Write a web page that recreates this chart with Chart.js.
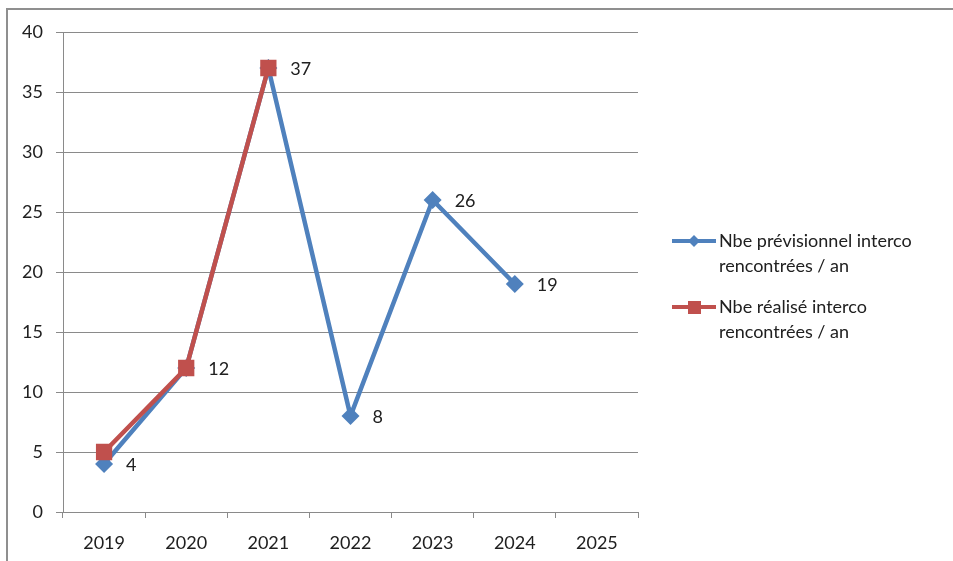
<!DOCTYPE html>
<html>
<head>
<meta charset="utf-8">
<script src="https://cdn.jsdelivr.net/npm/chart.js@4"></script>
<style>
  body { margin: 0; background: #fff; }
  #wrap { position: relative; width: 953px; height: 561px; overflow: hidden; }
  #frame { position: absolute; left: 6px; top: 8px; width: 960px; height: 600px;
           border-left: 2px solid #8f8f8f; border-top: 2px solid #8f8f8f; box-sizing: border-box; }
  #c { position: absolute; left: 0; top: 0; }
</style>
</head>
<body>
<div id="wrap">
  <div id="frame"></div>
  <canvas id="c" width="953" height="561"></canvas>
</div>
<script>
// data
const years = ['2019', '2020', '2021', '2022', '2023', '2024', '2025'];
const previsionnel = [4, 12, 37, 8, 26, 19, null];
const realise = [5, 12, 37, null, null, null, null];
const seriesNames = [
  ['Nbe prévisionnel interco', 'rencontrées / an'],
  ['Nbe réalisé interco', 'rencontrées / an']
];

const FONT = 'Lato, "Liberation Sans", sans-serif';
const GRID = '#8a8a8a';
const TEXT = '#202020';

// value labels to the right of the blue points
const valueLabels = {
  id: 'valueLabels',
  afterDatasetsDraw(chart) {
    const ctx = chart.ctx;
    const meta = chart.getDatasetMeta(0);
    ctx.save();
    ctx.font = '18px ' + FONT;
    ctx.fillStyle = TEXT;
    ctx.textAlign = 'left';
    ctx.textBaseline = 'middle';
    meta.data.forEach((pt, i) => {
      const v = chart.data.datasets[0].data[i];
      if (v === null) return;
      ctx.fillText(String(v), pt.x + 22, pt.y + 1);
    });
    ctx.restore();
  }
};

// legend on the right, with wrapped text
const sideLegend = {
  id: 'sideLegend',
  afterDraw(chart) {
    const ctx = chart.ctx;
    const rows = [241, 307];
    ctx.save();
    chart.data.datasets.forEach((ds, i) => {
      const y = rows[i];
      ctx.strokeStyle = ds.borderColor;
      ctx.lineWidth = 4;
      ctx.beginPath();
      ctx.moveTo(672, y);
      ctx.lineTo(716, y);
      ctx.stroke();
      ctx.fillStyle = ds.borderColor;
      ctx.beginPath();
      if (ds.pointStyle === 'rectRot') {
        ctx.moveTo(694, y - 6); ctx.lineTo(700, y); ctx.lineTo(694, y + 6); ctx.lineTo(688, y);
      } else {
        ctx.rect(688, y - 6, 13, 13);
      }
      ctx.closePath();
      ctx.fill();
      ctx.font = '18px ' + FONT;
      ctx.fillStyle = TEXT;
      ctx.textAlign = 'left';
      ctx.textBaseline = 'middle';
      seriesNames[i].forEach((line, j) => ctx.fillText(line, 719, y + j * 25));
    });
    ctx.restore();
  }
};

new Chart(document.getElementById('c'), {
  type: 'line',
  data: {
    labels: years,
    datasets: [
      {
        label: seriesNames[0].join(' '),
        data: previsionnel,
        order: 1,
        borderColor: '#4f81bd',
        backgroundColor: '#4f81bd',
        borderWidth: 4.5,
        pointStyle: 'rectRot',
        pointRadius: 9,
        pointBorderWidth: 0,
        tension: 0
      },
      {
        label: seriesNames[1].join(' '),
        data: realise,
        order: 0,
        borderColor: '#c0504d',
        backgroundColor: '#c0504d',
        borderWidth: 4.5,
        pointStyle: 'rect',
        pointRadius: 11.5,
        pointBorderWidth: 0,
        tension: 0
      }
    ]
  },
  options: {
    responsive: false,
    animation: false,
    layout: { padding: { left: 0, top: 32, right: 315, bottom: 0 } },
    plugins: { legend: { display: false }, tooltip: { enabled: false } },
    scales: {
      x: {
        offset: true,
        afterFit: s => { s.height = 49; },
        grid: { offset: true, drawOnChartArea: false, drawTicks: true, tickLength: 6, color: GRID },
        border: { display: true, color: GRID },
        ticks: { color: TEXT, font: { family: FONT, size: 18 }, padding: 14 }
      },
      y: {
        min: 0,
        max: 40,
        afterFit: s => { s.width = 63; },
        ticks: { stepSize: 5, color: TEXT, font: { family: FONT, size: 18 }, padding: 13 },
        grid: { color: GRID, tickLength: 7 },
        border: { display: true, color: GRID }
      }
    }
  },
  plugins: [valueLabels, sideLegend]
});
</script>
</body>
</html>
